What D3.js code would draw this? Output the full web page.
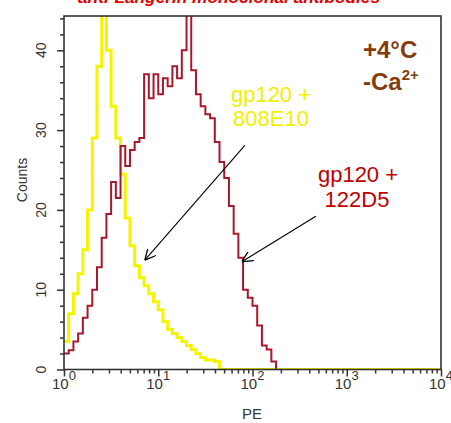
<!DOCTYPE html>
<html>
<head>
<meta charset="utf-8">
<script src="https://cdn.jsdelivr.net/npm/d3@7"></script>
<style>
body { margin: 0; background: #fff; }
svg { display: block; }
</style>
</head>
<body>
<script>
// each channel is 0.05 decade wide, first one starts at 10^0
var binStep = 0.05;
// gp120 + 808E10
var yellowCounts = [3.5, 7, 9.5, 12, 15, 20, 29, 38, 44.5, 40, 33, 29, 24.5, 19, 15.5, 13, 11.5, 10.5,
	9.5, 8.5, 7.5, 6, 5, 4.5, 4, 3.5, 3, 2.5, 2, 1.5, 1.2, 1.2, 1];
// gp120 + 122D5
var redCounts = [2, 2.4, 3.5, 4.5, 6.5, 8, 10, 12.8, 16.5, 19.5, 23.5, 21.5, 28, 25.5, 27.5, 28.5, 29, 37,
	34, 37, 34.5, 36.5, 35.5, 38, 36.5, 40, 46, 37.5, 34.5, 33, 32, 31.5, 28.5, 26, 24, 20.5, 17, 14,
	10, 9, 8, 5.5, 3, 2.5, 1];
var decades = [0, 1, 2, 3, 4];
var countTicks = [0, 10, 20, 30, 40];
var countMinor = [2, 4, 6, 8, 12, 14, 16, 18, 22, 24, 26, 28, 32, 34, 36, 38, 42, 44];
// arrows: [from PE, from count, to PE, to count]
var arrows = [[83, 28.1, 7.2, 13.7], [470, 19.2, 77, 13.5]];

var width = 451;
var height = 423;
var x = d3.scaleLog()
	.domain([1, 10000])
	.range([64, 441]);
var y = d3.scaleLinear()
	.domain([0, 44.3])
	.range([369.5, 16]);

var svg = d3.select("body")
	.append("svg")
		.attr("width", width)
		.attr("height", height)
		.style("font-family", "Liberation Sans, Arial, sans-serif");

svg.append("defs").append("clipPath")
		.attr("id", "plot-clip")
	.append("rect")
		.attr("x", 64)
		.attr("y", 16)
		.attr("width", 377)
		.attr("height", 354);

svg.append("defs").append("marker")
		.attr("id", "head")
		.attr("viewBox", "0 0 10 10")
		.attr("refX", 10)
		.attr("refY", 5)
		.attr("markerWidth", 11)
		.attr("markerHeight", 11)
		.attr("markerUnits", "userSpaceOnUse")
		.attr("orient", "auto")
	.append("path")
		.attr("d", "M0,0 L10,5 L0,10")
		.attr("fill", "none")
		.attr("stroke", "#000")
		.attr("stroke-width", 1.2);

// title, mostly cut off at the top of the picture
svg.append("text")
	.attr("x", 229)
	.attr("y", 3)
	.attr("text-anchor", "middle")
	.attr("font-size", "17px")
	.attr("font-weight", "bold")
	.attr("font-style", "italic")
	.attr("textLength", 302)
	.attr("lengthAdjust", "spacingAndGlyphs")
	.style("fill", "#e00000")
	.text("anti-Langerin monoclonal antibodies");

var toPoints = (counts, tail) => {
	var pts = counts.map((c, i) => [x(Math.pow(10, i * binStep)), y(c)]);
	var last = counts.length * binStep;
	pts.push([x(Math.pow(10, last)), y(counts[counts.length - 1])]);
	pts.push([x(Math.pow(10, last)), y(0)]);
	if (tail) pts.push([x(10000), y(0)]);
	return pts;
};

var step = d3.line().curve(d3.curveStepAfter);
var plot = svg.append("g").attr("clip-path", "url(#plot-clip)");

plot.append("path")
	.attr("d", step(toPoints(yellowCounts, true)))
	.attr("fill", "none")
	.attr("stroke", "#f4f400")
	.attr("stroke-width", 3);

plot.append("path")
	.attr("d", step(toPoints(redCounts, false)))
	.attr("fill", "none")
	.attr("stroke", "#a8182c")
	.attr("stroke-width", 2);

// frame
svg.append("rect")
	.attr("x", 64)
	.attr("y", 16)
	.attr("width", 377)
	.attr("height", 353.5)
	.attr("fill", "none")
	.attr("stroke", "#333")
	.attr("stroke-width", 1.6);

// y axis
var leftAxis = d3.axisLeft(y).tickValues(countTicks).tickSize(7).tickFormat("");
svg.append("g")
	.attr("class", "left axis")
	.attr("transform", "translate(64,0)")
	.call(leftAxis);
svg.append("g")
	.attr("class", "left minor")
	.attr("transform", "translate(64,0)")
	.call(d3.axisLeft(y).tickValues(countMinor).tickSize(4).tickFormat(""));

svg.selectAll(".ylab")
	.data(countTicks)
	.enter().append("text")
	.attr("class", "ylab")
	.attr("transform", (d) => "translate(46," + y(d) + ") rotate(-90)")
	.attr("text-anchor", "middle")
	.attr("font-size", "14px")
	.style("fill", "#333")
	.text((d) => d);

svg.append("text")
	.attr("transform", "translate(27,180) rotate(-90)")
	.attr("text-anchor", "middle")
	.attr("font-size", "14px")
	.style("fill", "#333")
	.text("Counts");

// x axis
var minorX = [];
decades.slice(0, 4).forEach((k) => {
	d3.range(2, 10).forEach((m) => { minorX.push(m * Math.pow(10, k)); });
});
svg.append("g")
	.attr("class", "bottom axis")
	.attr("transform", "translate(0,369.5)")
	.call(d3.axisBottom(x).tickValues(decades.map((k) => Math.pow(10, k))).tickSize(7).tickFormat(""));
svg.append("g")
	.attr("class", "bottom minor")
	.attr("transform", "translate(0,369.5)")
	.call(d3.axisBottom(x).tickValues(minorX).tickSize(4).tickFormat(""));

svg.selectAll(".axis path, .minor path").remove();
svg.selectAll(".axis line, .minor line")
	.attr("stroke", "#333")
	.attr("stroke-width", 1.5);

var xlab = svg.selectAll(".xlab")
	.data(decades)
	.enter().append("text")
	.attr("class", "xlab")
	.attr("x", (d) => x(Math.pow(10, d)))
	.attr("y", 389)
	.attr("text-anchor", "middle")
	.attr("font-size", "15px")
	.style("fill", "#333");
xlab.append("tspan").text("10");
xlab.append("tspan")
	.attr("dy", -9)
	.attr("font-size", "13px")
	.text((d) => d);

svg.append("text")
	.attr("x", 252)
	.attr("y", 419)
	.attr("text-anchor", "middle")
	.attr("font-size", "15px")
	.style("fill", "#333")
	.text("PE");

// arrows
svg.selectAll(".arrow")
	.data(arrows)
	.enter().append("line")
	.attr("class", "arrow")
	.attr("x1", (d) => x(d[0]))
	.attr("y1", (d) => y(d[1]))
	.attr("x2", (d) => x(d[2]))
	.attr("y2", (d) => y(d[3]))
	.attr("stroke", "#000")
	.attr("stroke-width", 1.1)
	.attr("marker-end", "url(#head)");

// annotations
var note = (txt, cx, cy, col) => {
	svg.append("text")
		.attr("x", cx)
		.attr("y", cy)
		.attr("text-anchor", "middle")
		.attr("font-size", "22px")
		.style("fill", col)
		.text(txt);
};
note("gp120 +", 271, 102, "#f0f000");
note("808E10", 271, 126, "#f0f000");
note("gp120 +", 358, 182, "#c00000");
note("122D5", 357, 207, "#c00000");

svg.append("text")
	.attr("x", 363)
	.attr("y", 58)
	.attr("font-size", "24px")
	.attr("font-weight", "bold")
	.style("fill", "#843c0c")
	.text("+4°C");
var ca = svg.append("text")
	.attr("x", 363)
	.attr("y", 90)
	.attr("font-size", "24px")
	.attr("font-weight", "bold")
	.style("fill", "#843c0c");
ca.append("tspan").text("-Ca");
ca.append("tspan")
	.attr("dy", -10)
	.attr("font-size", "15px")
	.text("2+");
</script>
</body>
</html>
